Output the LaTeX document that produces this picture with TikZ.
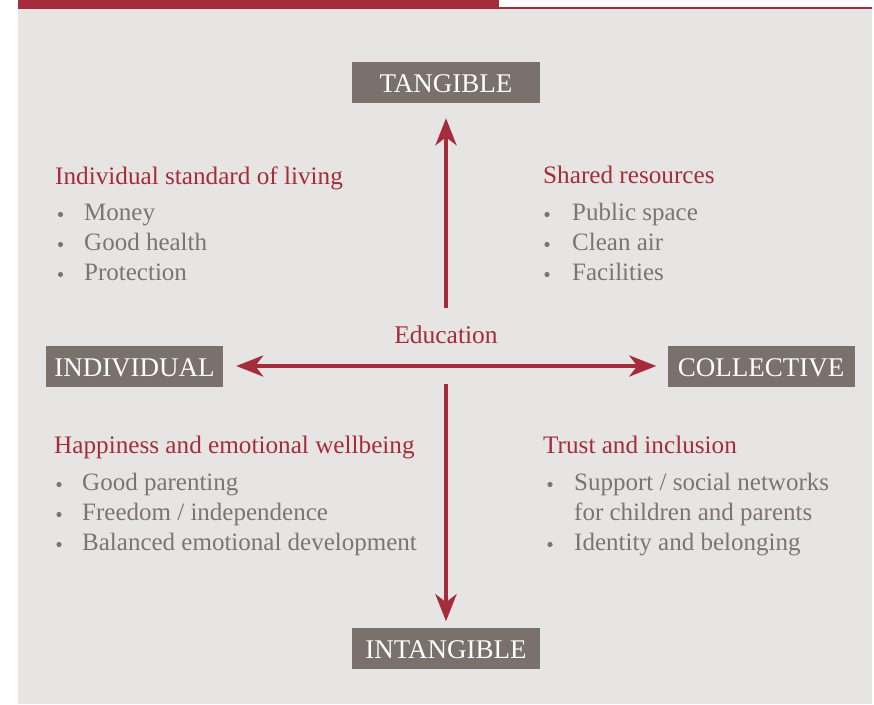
\documentclass[tikz,border=0pt]{standalone}
\usepackage{fontspec}
\setmainfont{Liberation Serif}
\usetikzlibrary{arrows.meta, positioning}
\definecolor{panelgrey}{HTML}{E7E5E3}
\definecolor{boxgrey}{HTML}{7A716C}
\definecolor{wine}{HTML}{A52C3B}
\definecolor{itemgrey}{HTML}{7D7470}
\tikzset{
  axislabel/.style={fill=boxgrey, text=white, minimum height=41pt, inner sep=0pt,
    text height=21.5pt, text depth=0pt, font=\fontsize{27}{30}\selectfont},
  heading/.style={anchor=base west, text=wine, inner sep=0pt,
    font=\fontsize{25.2}{30}\selectfont},
  item/.style={anchor=base west, text=itemgrey, inner sep=0pt,
    font=\fontsize{25}{30}\selectfont},
  axis/.style={draw=wine, line width=4.5pt},
  axishead/.tip={Stealth[length=27pt, width=21pt, inset=8pt]}
}

\begin{document}
\begin{tikzpicture}[x=1pt, y=-1pt]
    \useasboundingbox (0,0) rectangle (874,704);
    % panel and header strip
    \fill[panelgrey] (18,8) rectangle (872,704);
    \fill[wine] (18,0) rectangle (499,8.5);
    \draw[wine, line width=1.5pt] (499,7.8) -- (872,7.8);

    % axis labels
    \node[axislabel, minimum width=188pt] (tangible)   at (446,82)  {TANGIBLE};
    \node[axislabel, minimum width=188pt] (intangible) at (446,648) {INTANGIBLE};
    \node[axislabel, minimum width=177pt] (individual) at (134.5,366) {INDIVIDUAL};
    \node[axislabel, minimum width=187pt] (collective) at (761,366) {COLLECTIVE};
    \node[anchor=base, text=wine, inner sep=0pt, font=\fontsize{25.5}{30}\selectfont]
        (education) at (446,343) {Education};

    % axes
    \coordinate (upfoot)   at (446,308);
    \coordinate (downfoot) at (446,384);
    \draw[axis, -axishead, shorten >=15.5pt] (upfoot) -- (tangible);
    \draw[axis, -axishead, shorten >=6pt] (downfoot) -- (intangible);
    \draw[axis, axishead-axishead, shorten <=13pt, shorten >=11pt] (individual) -- (collective);

    % top left
    \node[heading] (standard) at (55,184) {Individual standard of living};
    \foreach \txt [count=\i] in {Money, Good health, Protection} {
      \node[item] (standard\i) at (84,190+30*\i) {\txt};
      \fill[itemgrey] (60.5,184.5+30*\i) circle (2.6pt);
    }

    % top right
    \node[heading] (shared) at (543,183) {Shared resources};
    \foreach \txt [count=\i] in {Public space, Clean air, Facilities} {
      \node[item] (shared\i) at (572,190+30*\i) {\txt};
      \fill[itemgrey] (547,184.5+30*\i) circle (2.6pt);
    }

    % bottom left
    \node[heading] (happiness) at (54,453) {Happiness and emotional wellbeing};
    \foreach \txt [count=\i] in {Good parenting, Freedom / independence, Balanced emotional development} {
      \node[item] (happiness\i) at (82,460+30*\i) {\txt};
      \fill[itemgrey] (59,454.5+30*\i) circle (2.6pt);
    }

    % bottom right
    \node[heading] (trust) at (543,453) {Trust and inclusion};
    \node[item] (trust1) at (574,490) {Support / social networks};
    \node[item] (trust2) at (574,520) {for children and parents};
    \node[item] (trust3) at (574,550) {Identity and belonging};
    \fill[itemgrey] (550,484.5) circle (2.6pt);
    \fill[itemgrey] (550,544.5) circle (2.6pt);
\end{tikzpicture}
\end{document}
